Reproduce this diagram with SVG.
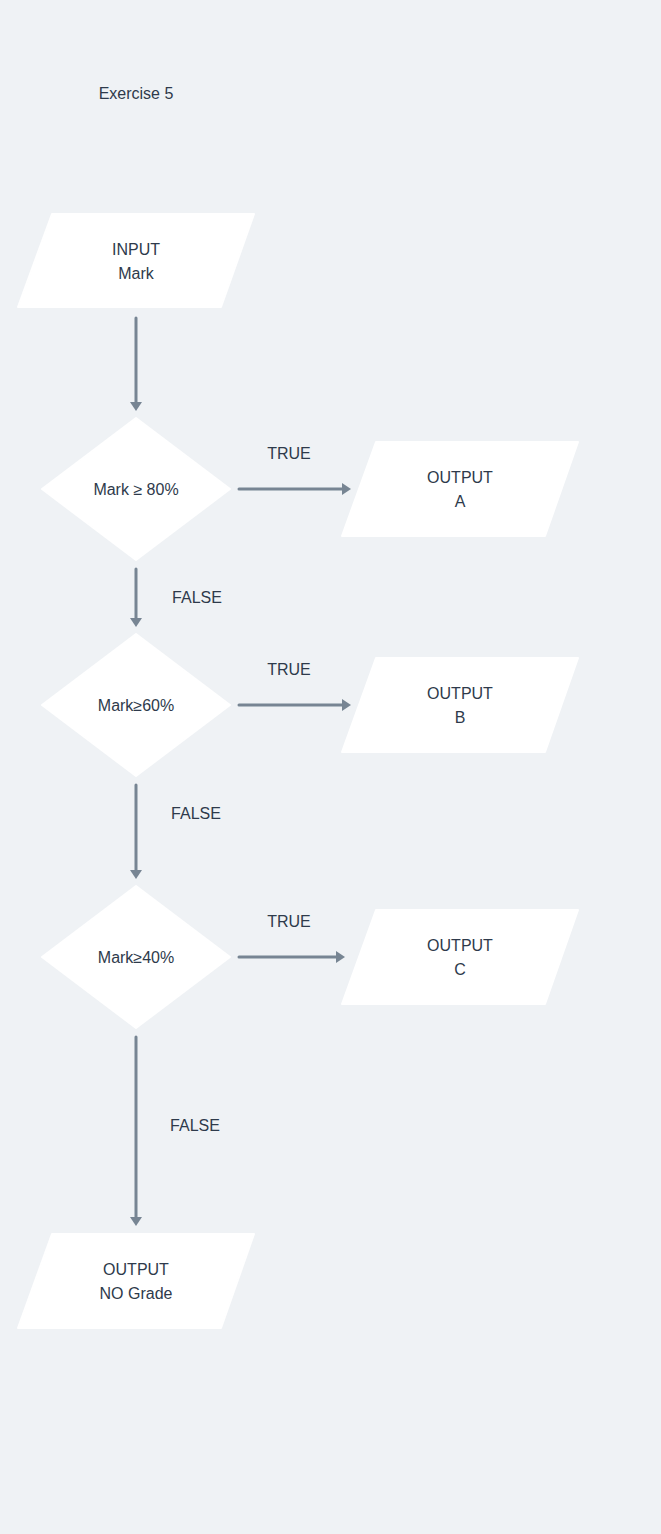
<svg xmlns="http://www.w3.org/2000/svg" width="661" height="1534" viewBox="0 0 661 1534">
<style>
  .bg{fill:#eff2f5}
  .shape{fill:#ffffff;stroke:#ffffff;stroke-width:2;stroke-linejoin:round}
  .t{font-family:"Liberation Sans",Arial,sans-serif;font-size:16px;fill:#2e3a4b;text-anchor:middle;dominant-baseline:central}
  .c{stroke:#778593;stroke-width:3;fill:none;stroke-linecap:round;marker-end:url(#ah)}
</style>
<defs>
  <marker id="ah" markerUnits="userSpaceOnUse" markerWidth="10" markerHeight="14" refX="1" refY="6" orient="auto" viewBox="0 0 10 12">
    <path d="M0,0 L9,6 L0,12 z" fill="#778593"/>
  </marker>
</defs>
<rect class="bg" width="661" height="1534"/>
<text class="t" x="136" y="93">Exercise 5</text>

<g id="input">
  <polygon class="shape" points="52,214 254,214 221,307 18,307"/>
  <text class="t" x="136" y="249">INPUT</text>
  <text class="t" x="136" y="273">Mark</text>
</g>
<g id="d1">
  <polygon class="shape" points="136,418 230,489 136,560 42,489"/>
  <text class="t" x="136" y="489">Mark ≥ 80%</text>
</g>
<g id="outA">
  <polygon class="shape" points="376,442 578,442 545,536 342,536"/>
  <text class="t" x="460" y="477">OUTPUT</text>
  <text class="t" x="460" y="501">A</text>
</g>
<g id="d2">
  <polygon class="shape" points="136,634 230,705 136,776 42,705"/>
  <text class="t" x="136" y="705">Mark≥60%</text>
</g>
<g id="outB">
  <polygon class="shape" points="376,658 578,658 545,752 342,752"/>
  <text class="t" x="460" y="693">OUTPUT</text>
  <text class="t" x="460" y="717">B</text>
</g>
<g id="d3">
  <polygon class="shape" points="136,886 230,957 136,1028 42,957"/>
  <text class="t" x="136" y="957">Mark≥40%</text>
</g>
<g id="outC">
  <polygon class="shape" points="376,910 578,910 545,1004 342,1004"/>
  <text class="t" x="460" y="945">OUTPUT</text>
  <text class="t" x="460" y="969">C</text>
</g>
<g id="nograde">
  <polygon class="shape" points="52,1234 254,1234 221,1328 18,1328"/>
  <text class="t" x="136" y="1269">OUTPUT</text>
  <text class="t" x="136" y="1293">NO Grade</text>
</g>

<g id="connectors">
  <line class="c" x1="136" y1="318" x2="136" y2="403"/>
  <line class="c" x1="136" y1="569" x2="136" y2="619"/>
  <line class="c" x1="136" y1="785" x2="136" y2="871"/>
  <line class="c" x1="136" y1="1037" x2="136" y2="1218"/>
  <line class="c" x1="239" y1="489" x2="343" y2="489"/>
  <line class="c" x1="239" y1="705" x2="343" y2="705"/>
  <line class="c" x1="239" y1="957" x2="337" y2="957"/>
  <text class="t" x="289" y="453">TRUE</text>
  <text class="t" x="197" y="597">FALSE</text>
  <text class="t" x="289" y="669">TRUE</text>
  <text class="t" x="196" y="813">FALSE</text>
  <text class="t" x="289" y="921">TRUE</text>
  <text class="t" x="195" y="1125">FALSE</text>
</g>
</svg>
